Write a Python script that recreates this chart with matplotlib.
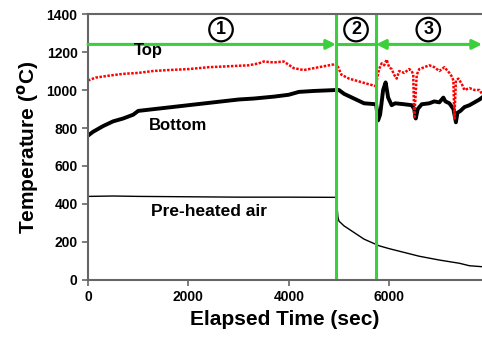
import matplotlib.pyplot as plt

plt.rcParams['font.family'] = ['Liberation Sans', 'DejaVu Sans']
plt.rcParams['font.weight'] = 'bold'

# ---- data ----
top_t = [0, 150, 400, 700, 1000, 1300, 1600, 2000, 2400, 2800, 3200, 3400, 3500, 3700, 3900,
         4100, 4300, 4500, 4700, 4900, 4950, 5050, 5200, 5400, 5600, 5740,
         5760, 5800, 5850, 5900, 5950, 6000, 6050, 6100, 6150, 6200, 6300, 6400, 6450,
         6480, 6500, 6550, 6600, 6700, 6800, 6900, 7000, 7100, 7200, 7250, 7280,
         7300, 7330, 7380, 7450, 7500, 7600, 7700, 7800, 7850]
top_T = [1050, 1065, 1075, 1085, 1090, 1100, 1105, 1110, 1120, 1125, 1130, 1140, 1150, 1145, 1150,
         1115, 1105, 1115, 1125, 1135, 1140, 1080, 1060, 1045, 1030, 1020,
         1060, 1110, 1140, 1130, 1160, 1120, 1110, 1080, 1060, 1100, 1090, 1110, 1100,
         1080, 850, 1080, 1110, 1120, 1130, 1120, 1100, 1120, 1090, 1070, 1050,
         850, 1050, 1060, 1030, 1000, 1010, 1000, 1000, 980]

bot_t = [0, 100, 300, 500, 700, 900, 1000, 1500, 2000, 2500, 3000, 3300, 3500, 3700, 4000,
         4200, 4500, 4950, 5000, 5100, 5300, 5500, 5740,
         5780, 5820, 5880, 5930, 5980, 6050, 6120, 6300, 6450, 6500, 6530, 6570, 6650,
         6800, 6900, 7000, 7080, 7120, 7200, 7280, 7330, 7360, 7420, 7500, 7600, 7700, 7800, 7850]
bot_T = [760, 780, 810, 835, 850, 870, 890, 905, 920, 935, 950, 955, 960, 965, 975,
         990, 995, 1000, 1000, 980, 955, 930, 925,
         840, 870, 1000, 1040, 960, 920, 930, 925, 920, 900, 850, 900, 925,
         930, 940, 935, 960, 940, 930, 900, 830, 880, 890, 910, 920, 935, 950, 960]

air_t = [0, 500, 1000, 2000, 3000, 4000, 4940, 4960, 4980, 5000, 5100, 5300, 5500, 5800,
         6000, 6300, 6600, 7000, 7400, 7600, 7850]
air_T = [440, 442, 440, 438, 436, 436, 435, 390, 330, 310, 285, 250, 215, 180,
         165, 145, 125, 105, 88, 75, 70]

stage_bounds = [4940, 5740]
xmax = 7850

fig = plt.figure(figsize=(4.82, 3.40), dpi=100)
ax = fig.add_axes([0.1826, 0.1765, 0.8174, 0.7823])

ax.plot(air_t, air_T, color='black', lw=1)
ax.plot(bot_t, bot_T, color='black', lw=2.8)
ax.plot(top_t, top_T, color='red', lw=1.8, ls=(0, (1, 0.6)))

green = '#3ccf3c'
for xb in stage_bounds:
    ax.axvline(xb, color=green, lw=2.2)
arr_y = 1240
ax.annotate('', xy=(stage_bounds[0], arr_y), xytext=(0, arr_y),
            arrowprops=dict(arrowstyle='-|>', color=green, lw=2.2, mutation_scale=14, shrinkA=0, shrinkB=0))
ax.plot(stage_bounds, [arr_y, arr_y], color=green, lw=2.2)
ax.annotate('', xy=(xmax, arr_y), xytext=(stage_bounds[1], arr_y),
            arrowprops=dict(arrowstyle='<|-|>', color=green, lw=2.2, mutation_scale=14, shrinkA=0, shrinkB=0))

circ = dict(boxstyle='circle,pad=0.18', fc='white', ec='black', lw=1.6)
for lab, xc in [('1', 2650), ('2', 5340), ('3', 6780)]:
    ax.text(xc, 1318, lab, ha='center', va='center', fontsize=13, fontweight='bold', bbox=circ)

ax.text(1200, 1210, 'Top', ha='center', va='center', fontsize=12, fontweight='bold')
ax.text(1800, 815, 'Bottom', ha='center', va='center', fontsize=12, fontweight='bold')
ax.text(2420, 360, 'Pre-heated air', ha='center', va='center', fontsize=12.5, fontweight='bold')

ax.set_xlim(0, xmax)
ax.set_ylim(0, 1400)
ax.set_xticks([0, 2000, 4000, 6000])
ax.set_yticks(range(0, 1401, 200))
ax.tick_params(labelsize=10, direction='out', length=4, color='#666666', width=1.2)
for s in ['left', 'bottom', 'top']:
    ax.spines[s].set_color('#666666')
    ax.spines[s].set_linewidth(1.5)
ax.spines['right'].set_visible(False)

ax.set_xlabel('Elapsed Time (sec)', fontsize=15, fontweight='bold')
ax.set_ylabel('Temperature ($^{\\mathbf{o}}$C)', fontsize=15, fontweight='bold')

fig.savefig('out.png', dpi=100)
